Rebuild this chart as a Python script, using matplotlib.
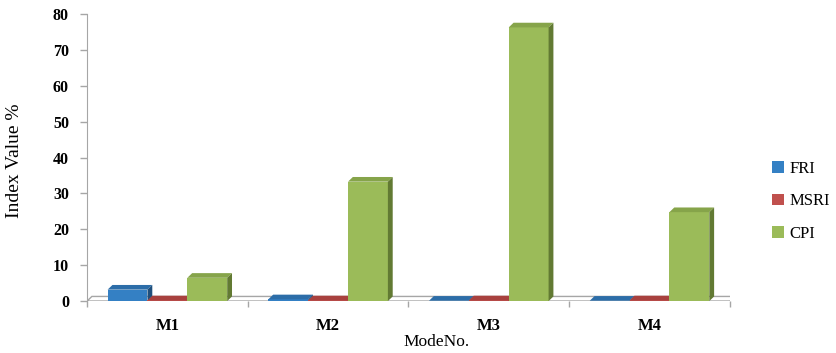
import matplotlib.pyplot as plt
from matplotlib.patches import Polygon, Patch
import numpy as np

plt.rcParams['font.family'] = ['Liberation Serif', 'DejaVu Serif']

# data
modes = ['M1', 'M2', 'M3', 'M4']
fri = [3.2, 0.5, 0.1, 0.1]
msri = [0.2, 0.2, 0.2, 0.2]
cpi = [6.5, 33.3, 76.3, 24.8]

series = [('FRI', fri), ('MSRI', msri), ('CPI', cpi)]
# front, top, side colours
colors = {
    'FRI': ('#3480C4', '#2C6DA8', '#1F4F7C'),
    'MSRI': ('#C0504D', '#A8413E', '#843230'),
    'CPI': ('#9BBB59', '#86A44A', '#627A33'),
}

width = 0.248
ddx = 0.03   # depth offset, category units
ddy = 1.3    # depth offset, value units

fig = plt.figure(figsize=(8.37, 3.53), dpi=100)
ax = fig.add_axes([0.104, 0.147, 0.768, 0.813])

x = np.arange(len(modes))

# floor
floor = Polygon([(-0.5, 0), (3.5, 0), (3.5 + ddx, ddy), (-0.5 + ddx, ddy)],
                closed=True, facecolor='white', edgecolor='#A6A6A6', lw=1, zorder=1)
ax.add_patch(floor)

for i, (name, vals) in enumerate(series):
    front, top, side = colors[name]
    offs = (i - 1) * width
    for xi, v in zip(x, vals):
        x0 = xi + offs - width / 2
        x1 = x0 + width
        ax.add_patch(Polygon([(x0, 0), (x1, 0), (x1, v), (x0, v)],
                             facecolor=front, edgecolor='none', zorder=3))
        ax.add_patch(Polygon([(x0, v), (x1, v), (x1 + ddx, v + ddy), (x0 + ddx, v + ddy)],
                             facecolor=top, edgecolor='none', zorder=3))
        ax.add_patch(Polygon([(x1, 0), (x1 + ddx, ddy), (x1 + ddx, v + ddy), (x1, v)],
                             facecolor=side, edgecolor='none', zorder=3))

ax.set_xlim(-0.5, 3.5)
ax.set_ylim(0, 80)
ax.set_yticks(range(0, 81, 10))
ax.set_xticks(x)
ax.set_xticklabels(modes, fontsize=12, fontweight='bold')
ax.set_xticks(np.arange(-0.5, 3.6, 1), minor=True)
ax.tick_params(axis='x', which='major', length=0, pad=12)
ax.tick_params(axis='x', which='minor', length=4, color='#A6A6A6', width=1)
ax.tick_params(axis='y', length=5, color='#A6A6A6', width=1, labelsize=11.5, pad=8)
for lab in ax.get_yticklabels():
    lab.set_fontweight('bold')

for s in ['top', 'right', 'bottom']:
    ax.spines[s].set_visible(False)
ax.spines['left'].set_color('#A6A6A6')
ax.axhline(0, color='#A6A6A6', lw=1, zorder=2)

ax.set_ylabel('Index Value %', fontsize=14)
ax.yaxis.set_label_coords(-0.099, 0.49)
fig.text(0.521, 0.008, 'ModeNo.', fontsize=12.5, ha='center', va='bottom')

handles = [Patch(facecolor=colors[n][0], label=n) for n, _ in series]
fig.legend(handles=handles, loc='center left', bbox_to_anchor=(0.905, 0.43),
           frameon=False, fontsize=12, handlelength=0.7, handleheight=0.7,
           handletextpad=0.3, labelspacing=1.0)

fig.savefig('out.png', dpi=100)
